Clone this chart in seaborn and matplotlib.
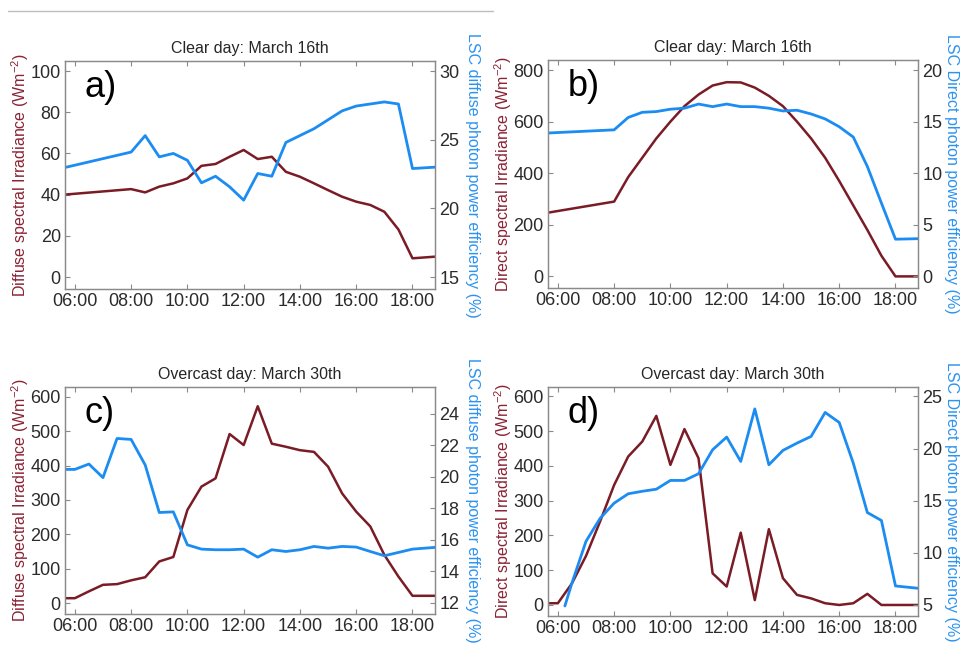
import numpy as np
import pandas as pd
import matplotlib
matplotlib.use("Agg")
import matplotlib.pyplot as plt
from matplotlib.lines import Line2D
import seaborn as sns

# ---- time axes (decimal hours) ----
hour_ticks = [6, 8, 10, 12, 14, 16, 18]
hour_labels = ["06:00", "08:00", "10:00", "12:00", "14:00", "16:00", "18:00"]

# Clear day: samples every half hour from 08:00 plus the first/last readings
t_clear = [5.7, 8.0, 8.5, 9.0, 9.5, 10.0, 10.5, 11.0, 11.5, 12.0, 12.5, 13.0,
           13.5, 14.0, 14.5, 15.0, 15.5, 16.0, 16.5, 17.0, 17.5, 18.0, 18.8]
# Overcast day: samples every half hour
t_over = [5.7, 6.0, 6.5, 7.0, 7.5, 8.0, 8.5, 9.0, 9.5, 10.0, 10.5, 11.0, 11.5,
          12.0, 12.5, 13.0, 13.5, 14.0, 14.5, 15.0, 15.5, 16.0, 16.5, 17.0,
          17.5, 18.0, 18.8]
# the direct-efficiency record on the overcast day starts at 06:15
t_over_eff_direct = [6.25] + t_over[2:]

# ---- a) clear day, diffuse ----
a_irr = [40.1, 42.7, 41.1, 43.9, 45.5, 47.9, 54.0, 54.9, 58.4, 61.7, 57.3, 58.4,
         51.1, 48.7, 45.5, 42.2, 39.0, 36.6, 35.0, 31.7, 23.1, 9.1, 9.9]
a_eff = [23.0, 24.1, 25.3, 23.75, 24.0, 23.5, 21.86, 22.34, 21.57, 20.6, 22.54,
         22.34, 24.8, 25.3, 25.8, 26.45, 27.1, 27.45, 27.6, 27.75, 27.6, 22.9, 23.0]

# ---- b) clear day, direct ----
b_irr = [248, 290, 385, 460, 535, 600, 660, 705, 740, 753, 752, 732,
         700, 660, 600, 535, 460, 370, 275, 180, 80, 0, 0]
b_eff = [13.9, 14.2, 15.4, 15.9, 15.97, 16.2, 16.3, 16.7, 16.45, 16.7, 16.45,
         16.45, 16.3, 16.03, 16.1, 15.74, 15.26, 14.5, 13.5, 10.65, 7.1, 3.6, 3.65]

# ---- c) overcast day, diffuse ----
c_irr = [14, 14, 34, 53, 55, 66, 75, 121, 134, 271, 339, 363, 492, 460, 573,
         464, 455, 445, 440, 397, 319, 266, 223, 140, 77, 21, 21]
c_eff = [20.46, 20.46, 20.8, 19.94, 22.42, 22.36, 20.74, 17.73, 17.77, 15.68,
         15.41, 15.37, 15.37, 15.41, 14.9, 15.37, 15.26, 15.37, 15.58, 15.47,
         15.58, 15.54, 15.26, 14.99, 15.2, 15.41, 15.52]

# ---- d) overcast day, direct ----
d_irr = [5, 5, 62, 141, 240, 345, 427, 470, 544, 403, 506, 422, 91, 53, 208,
         14, 218, 77, 29, 19, 5, 0, 5, 32, 0, 0, 0]
d_eff = [4.9, 7.1, 11.1, 13.3, 14.76, 15.66, 15.9, 16.1, 16.94, 16.94, 17.58,
         19.88, 21.1, 18.76, 23.8, 18.44, 19.82, 20.52, 21.16, 23.46, 22.5,
         18.6, 13.86, 13.1, 6.82, 6.6]

RED = "#7a1c26"
BLUE = "#1b8cf2"
LABEL_RED = "#8a2233"
LABEL_BLUE = "#2c93f0"
GRAY = "#8a8a8a"

sns.set_theme(style="white")
plt.rcParams["font.family"] = ["Liberation Sans", "DejaVu Sans"]
plt.rcParams["mathtext.fontset"] = "custom"
plt.rcParams["mathtext.rm"] = "Liberation Sans"
plt.rcParams["mathtext.it"] = "Liberation Sans"

fig = plt.figure(figsize=(9.61, 6.57), dpi=100)
fig.patch.set_facecolor("white")

# faint rule across the top of the page
fig.add_artist(Line2D([8 / 961, 493 / 961], [1 - 11 / 657, 1 - 11 / 657],
                      color="#bdbdbd", lw=1.0))

W, H = 961, 657


def box(left, top, right, bottom):
    return [left / W, 1 - bottom / H, (right - left) / W, (bottom - top) / H]


panels = [
    dict(rect=box(65, 61, 435, 289), t1=t_clear, y1=a_irr, t2=t_clear, y2=a_eff,
         ylim1=(-5.8, 104.9), ylim2=(14.13, 30.73),
         yt1=[0, 20, 40, 60, 80, 100], yt2=[15, 20, 25, 30],
         title="Clear day: March 16th", letter="a)", rlab_x=1.1,
         lab1="Diffuse spectral Irradiance (Wm$^{-2}$)",
         lab2="LSC diffuse photon power efficiency (%)"),
    dict(rect=box(548, 60, 918, 288), t1=t_clear, y1=b_irr, t2=t_clear, y2=b_eff,
         ylim1=(-45, 839), ylim2=(-1.13, 20.97),
         yt1=[0, 200, 400, 600, 800], yt2=[0, 5, 10, 15, 20],
         title="Clear day: March 16th", letter="b)", rlab_x=1.09,
         lab1="Direct spectral Irradiance (Wm$^{-2}$)",
         lab2="LSC Direct photon power efficiency (%)"),
    dict(rect=box(65, 387, 435, 614), t1=t_over, y1=c_irr, t2=t_over, y2=c_eff,
         ylim1=(-32, 629), ylim2=(11.3, 25.68),
         yt1=[0, 100, 200, 300, 400, 500, 600], yt2=[12, 14, 16, 18, 20, 22, 24],
         title="Overcast day: March 30th", letter="c)", rlab_x=1.1,
         lab1="Diffuse spectral Irradiance (Wm$^{-2}$)",
         lab2="LSC diffuse photon power efficiency (%)"),
    dict(rect=box(548, 387, 918, 616), t1=t_over, y1=d_irr,
         t2=t_over_eff_direct, y2=d_eff,
         ylim1=(-31.7, 627), ylim2=(3.94, 25.9),
         yt1=[0, 100, 200, 300, 400, 500, 600], yt2=[5, 10, 15, 20, 25],
         title="Overcast day: March 30th", letter="d)", rlab_x=1.09,
         lab1="Direct spectral Irradiance (Wm$^{-2}$)",
         lab2="LSC Direct photon power efficiency (%)"),
]

TICK_FS = 13
LABEL_FS = 11.5

for p in panels:
    ax = fig.add_axes(p["rect"])
    tw = ax.twinx()

    df1 = pd.DataFrame({"time": p["t1"], "irr": p["y1"]})
    df2 = pd.DataFrame({"time": p["t2"], "eff": p["y2"]})
    sns.lineplot(data=df1, x="time", y="irr", ax=ax, color=RED, lw=1.8,
                 estimator=None, sort=False)
    sns.lineplot(data=df2, x="time", y="eff", ax=tw, color=BLUE, lw=2.0,
                 estimator=None, sort=False)

    ax.set_xlim(5.65, 18.8)
    ax.set_ylim(*p["ylim1"])
    tw.set_ylim(*p["ylim2"])
    ax.set_xticks(hour_ticks)
    ax.set_xticklabels(hour_labels)
    ax.set_yticks(p["yt1"])
    tw.set_yticks(p["yt2"])

    for a in (ax, tw):
        for s in a.spines.values():
            s.set_color(GRAY)
            s.set_linewidth(0.9)
            s.set_visible(True)
    ax.tick_params(axis="both", direction="in", length=3.5, width=0.8,
                   color=GRAY, labelsize=TICK_FS, labelcolor="#2b2b2b",
                   top=True, bottom=True, left=True, right=False, pad=3)
    tw.tick_params(axis="y", direction="in", length=3.5, width=0.8,
                   color=GRAY, labelsize=TICK_FS, labelcolor="#2b2b2b", pad=3)

    ax.set_xlabel("")
    ax.set_ylabel(p["lab1"], fontsize=LABEL_FS, color=LABEL_RED, va="center")
    tw.set_ylabel(p["lab2"], fontsize=LABEL_FS, color=LABEL_BLUE,
                  rotation=270, va="center")
    ax.yaxis.set_label_coords(-0.122, 0.5)
    tw.yaxis.set_label_coords(p["rlab_x"], 0.5)

    ax.set_title(p["title"], fontsize=11.5, color="#262626", pad=6)
    ax.text(0.052, 0.885, p["letter"], transform=ax.transAxes, fontsize=26,
            ha="left", va="center", color="black")

fig.savefig("out.png", dpi=100, facecolor="white")
